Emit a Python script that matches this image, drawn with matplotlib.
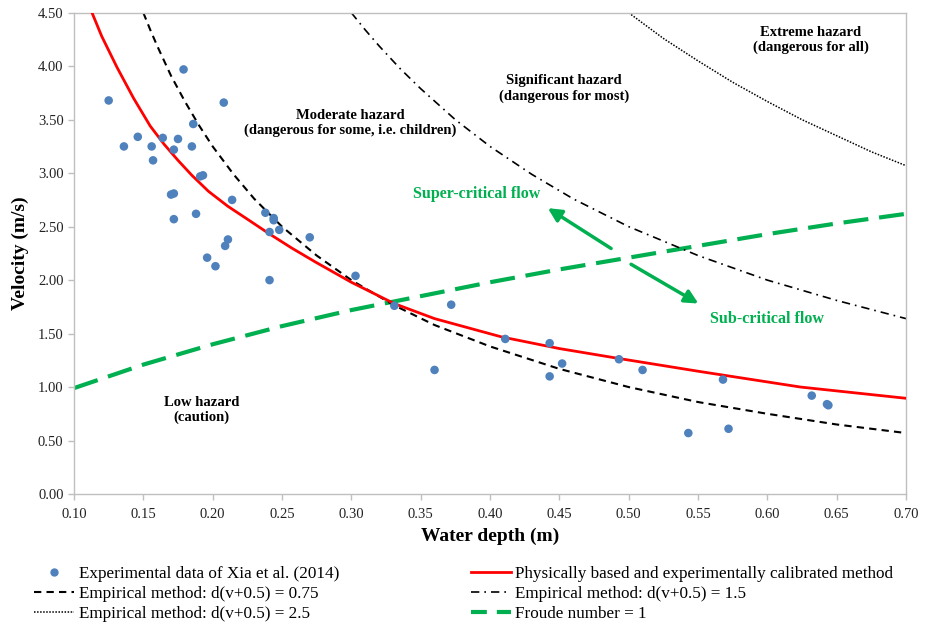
import matplotlib
matplotlib.use("Agg")
import matplotlib.pyplot as plt

plt.rcParams["font.family"] = ["Liberation Serif", "DejaVu Serif"]

# experimental points (water depth, velocity)
exp_depth = [0.125, 0.136, 0.146, 0.156, 0.157, 0.164, 0.172, 0.175, 0.179, 0.208,
             0.186, 0.185, 0.191, 0.193, 0.170, 0.172, 0.172, 0.188, 0.214, 0.238,
             0.244, 0.244, 0.241, 0.248, 0.270, 0.211, 0.209, 0.196, 0.202, 0.241,
             0.303, 0.331, 0.372, 0.360, 0.411, 0.443, 0.443, 0.452, 0.493, 0.510,
             0.543, 0.568, 0.572, 0.632, 0.643, 0.644]
exp_vel = [3.68, 3.25, 3.34, 3.25, 3.12, 3.33, 3.22, 3.32, 3.97, 3.66,
           3.46, 3.25, 2.97, 2.98, 2.80, 2.81, 2.57, 2.62, 2.75, 2.63,
           2.58, 2.56, 2.45, 2.47, 2.40, 2.38, 2.32, 2.21, 2.13, 2.00,
           2.04, 1.76, 1.77, 1.16, 1.45, 1.41, 1.10, 1.22, 1.26, 1.16,
           0.57, 1.07, 0.61, 0.92, 0.84, 0.83]

# physically based method curve
phys_depth = [0.113, 0.120, 0.131, 0.143, 0.155, 0.165, 0.175, 0.185, 0.197, 0.211,
              0.225, 0.240, 0.257, 0.274, 0.300, 0.331, 0.360, 0.408, 0.450, 0.494,
              0.552, 0.624, 0.700]
phys_vel = [4.50, 4.28, 3.99, 3.70, 3.44, 3.27, 3.12, 2.98, 2.83, 2.69,
            2.57, 2.44, 2.30, 2.17, 1.98, 1.78, 1.64, 1.47, 1.36, 1.265,
            1.144, 1.00, 0.895]

# empirical method d(v+0.5) = 0.75
e075_depth = [0.150, 0.155, 0.160, 0.165, 0.170, 0.180, 0.190, 0.200, 0.215, 0.230,
              0.250, 0.275, 0.300, 0.330, 0.360, 0.400, 0.450, 0.500, 0.550, 0.600,
              0.650, 0.700]
e075_vel = [4.50, 4.34, 4.19, 4.05, 3.91, 3.67, 3.45, 3.25, 2.99, 2.76,
            2.50, 2.23, 2.00, 1.77, 1.58, 1.38, 1.17, 1.00, 0.86, 0.75,
            0.65, 0.57]

# empirical method d(v+0.5) = 1.5
e15_depth = [0.300, 0.310, 0.320, 0.335, 0.350, 0.375, 0.400, 0.430, 0.460, 0.500,
             0.550, 0.600, 0.650, 0.700]
e15_vel = [4.50, 4.34, 4.19, 3.98, 3.79, 3.50, 3.25, 2.99, 2.76, 2.50,
           2.23, 2.00, 1.81, 1.64]

# empirical method d(v+0.5) = 2.5
e25_depth = [0.500, 0.525, 0.550, 0.575, 0.600, 0.625, 0.650, 0.675, 0.700]
e25_vel = [4.50, 4.26, 4.05, 3.85, 3.67, 3.50, 3.35, 3.20, 3.07]

# Froude number = 1
fr_depth = [0.10, 0.15, 0.20, 0.25, 0.30, 0.35, 0.40, 0.45, 0.50, 0.55, 0.60, 0.65, 0.70]
fr_vel = [0.99, 1.21, 1.40, 1.57, 1.72, 1.85, 1.98, 2.10, 2.21, 2.32, 2.43, 2.53, 2.62]

GREEN = "#00B050"
GRAY = "#BFBFBF"

fig = plt.figure(figsize=(9.25, 6.38), dpi=100)
ax = fig.add_axes([0.080, 0.2257, 0.8995, 0.7543])

ax.plot(fr_depth, fr_vel, color=GREEN, lw=3, dashes=(6, 2.6), zorder=2)
ax.plot(e25_depth, e25_vel, color="black", lw=1.1, linestyle=(0, (1, 1)), zorder=2)
ax.plot(e15_depth, e15_vel, color="black", lw=1.2, dashes=(5, 3, 1, 3), zorder=2)
ax.plot(e075_depth, e075_vel, color="black", lw=1.5, dashes=(3.5, 2.5), zorder=2)
ax.plot(phys_depth, phys_vel, color="#FF0000", lw=2, zorder=3)
ax.scatter(exp_depth, exp_vel, s=38, color="#4F81BD", edgecolors="none", zorder=4)

# flow direction arrows
ax.annotate("", xy=(0.440, 2.687), xytext=(0.489, 2.282),
            arrowprops=dict(arrowstyle="-|>", color=GREEN, lw=2.5, mutation_scale=20))
ax.annotate("", xy=(0.552, 1.768), xytext=(0.500, 2.161),
            arrowprops=dict(arrowstyle="-|>", color=GREEN, lw=2.5, mutation_scale=20))

lbl = dict(ha="center", va="center", fontsize=10.5, fontweight="bold", linespacing=1.2)
ax.text(0.299, 3.47, "Moderate hazard\n(dangerous for some, i.e. children)", **lbl)
ax.text(0.4534, 3.79, "Significant hazard\n(dangerous for most)", **lbl)
ax.text(0.6314, 4.247, "Extreme hazard\n(dangerous for all)", **lbl)
ax.text(0.1922, 0.786, "Low hazard\n(caution)", **lbl)
ax.text(0.3907, 2.806, "Super-critical flow", color=GREEN, ha="center", va="center",
        fontsize=11.5, fontweight="bold")
ax.text(0.600, 1.634, "Sub-critical flow", color=GREEN, ha="center", va="center",
        fontsize=11.5, fontweight="bold")

ax.set_xlim(0.10, 0.70)
ax.set_ylim(0.0, 4.5)
ax.set_xticks([0.10 + 0.05 * i for i in range(13)])
ax.set_yticks([0.5 * i for i in range(10)])
ax.xaxis.set_major_formatter(matplotlib.ticker.FormatStrFormatter("%.2f"))
ax.yaxis.set_major_formatter(matplotlib.ticker.FormatStrFormatter("%.2f"))
ax.tick_params(axis="both", colors=GRAY, labelcolor="#222222", labelsize=10.5,
               length=4, width=1, direction="out")
ax.tick_params(axis="x", pad=6)
for sp in ax.spines.values():
    sp.set_color(GRAY)
    sp.set_linewidth(1)
ax.set_xlabel("Water depth (m)", fontsize=14, fontweight="bold", labelpad=5)
ax.set_ylabel("Velocity (m/s)", fontsize=14, fontweight="bold", labelpad=6)

# legend, column-wise order
h_exp = plt.Line2D([], [], marker="o", ls="none", color="#4F81BD", markersize=6,
                   markeredgewidth=0)
h_e075 = plt.Line2D([], [], color="black", lw=1.5, dashes=(3.5, 2.5))
h_e25 = plt.Line2D([], [], color="black", lw=1.1, linestyle=(0, (1, 1)))
h_phys = plt.Line2D([], [], color="#FF0000", lw=2)
h_e15 = plt.Line2D([], [], color="black", lw=1.2, dashes=(5, 3, 1, 3))
h_fr = plt.Line2D([], [], color=GREEN, lw=3, dashes=(3.8, 2.4))
fig.legend([h_exp, h_e075, h_e25, h_phys, h_e15, h_fr],
           ["Experimental data of Xia et al. (2014)",
            "Empirical method: d(v+0.5) = 0.75",
            "Empirical method: d(v+0.5) = 2.5",
            "Physically based and experimentally calibrated method",
            "Empirical method: d(v+0.5) = 1.5",
            "Froude number = 1"],
           ncol=2, loc="upper left", bbox_to_anchor=(0.0205, 0.1364), frameon=False,
           fontsize=12.3, handlelength=2.35, handletextpad=0.25, columnspacing=7.7,
           labelspacing=0.21)

fig.savefig("out.png", dpi=100)
